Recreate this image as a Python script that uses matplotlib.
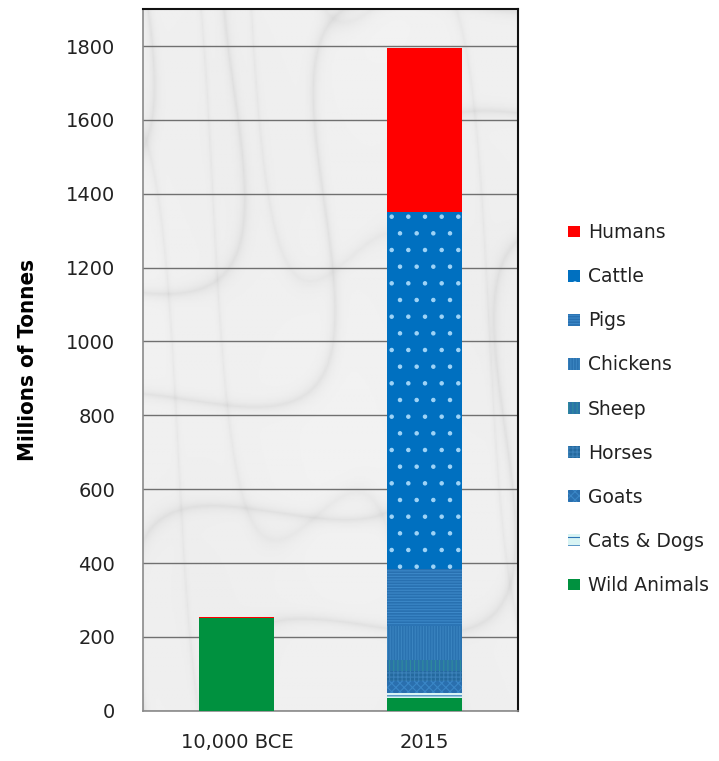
import matplotlib.pyplot as plt
import numpy as np

# Data (millions of tonnes)
periods = ["10,000 BCE", "2015"]
groups = ["Wild Animals", "Cats & Dogs", "Goats", "Horses", "Sheep",
          "Chickens", "Pigs", "Cattle", "Humans"]
biomass = {
    "Wild Animals": [250, 35],
    "Cats & Dogs":  [0, 13],
    "Goats":        [0, 32],
    "Horses":       [0, 27],
    "Sheep":        [0, 30],
    "Chickens":     [0, 92],
    "Pigs":         [0, 156],
    "Cattle":       [0, 965],
    "Humans":       [3, 445],
}

# Face colour, hatch colour, hatch pattern
styles = {
    "Wild Animals": ("#00913f", "#00913f", None),
    "Cats & Dogs":  ("#d8f4f4", "#2e75b6", "--"),
    "Goats":        ("#2a6fae", "#3a86c6", "xxxx"),
    "Horses":       ("#24699e", "#3a80b8", "++++"),
    "Sheep":        ("#2a73a8", "#2f8c9c", "||||"),
    "Chickens":     ("#2a72b0", "#3a84c0", "||||||"),
    "Pigs":         ("#2870b0", "#3c88c8", "------"),
    "Cattle":       ("#0070c0", "#9fd4f7", "."),
    "Humans":       ("#ff0000", "#ff0000", None),
}

plt.rcParams["hatch.linewidth"] = 0.8

fig = plt.figure(figsize=(7.19, 7.61), dpi=100)
ax = fig.add_axes([0.199, 0.066, 0.5215, 0.922])

# Marble-ish backdrop (deterministic, purely decorative)
gx, gy = np.meshgrid(np.linspace(0, 1, 300), np.linspace(0, 1, 600))
cloud = 0.5 + 0.25 * np.sin(6 * gx + 4 * gy) * np.sin(5 * gy - 3 * gx + 1.3)
veins = np.abs(np.sin(7 * gx - 9 * gy + 2.2 * np.sin(6 * gy + 4 * gx)))
veins2 = np.abs(np.sin(10 * gx + 6 * gy + 1.8 * np.sin(8 * gx - 2 * gy)))
shade = (0.955 - 0.03 * cloud - 0.06 * np.exp(-veins / 0.12)
         - 0.035 * np.exp(-veins2 / 0.1))
ax.imshow(shade, cmap="gray", vmin=0, vmax=1, extent=[-0.5, 1.5, 0, 1900],
          aspect="auto", zorder=0, origin="lower")

x = np.arange(len(periods))
bottom = np.zeros(len(periods))
handles = {}
for g in groups:
    vals = np.array(biomass[g], dtype=float)
    fc, hc, hatch = styles[g]
    b = ax.bar(x, vals, 0.4, bottom=bottom, color=fc, edgecolor=hc,
               linewidth=0, hatch=hatch, zorder=3, label=g)
    handles[g] = b
    bottom += vals

ax.set_xlim(-0.5, 1.5)
ax.set_ylim(0, 1900)
ax.set_yticks(np.arange(0, 1801, 200))
ax.set_xticks(x)
ax.set_xticklabels(periods)
ax.yaxis.grid(True, color="#707070", linewidth=1.0, zorder=1)
ax.set_axisbelow(True)
ax.tick_params(axis="both", length=0, labelsize=14, colors="#222222")
ax.tick_params(axis="y", pad=20)
ax.tick_params(axis="x", pad=16)

for s in ["left", "bottom"]:
    ax.spines[s].set_color("#8a8a8a")
    ax.spines[s].set_linewidth(1.2)
for s in ["top", "right"]:
    ax.spines[s].set_color("#111111")
    ax.spines[s].set_linewidth(1.5)

ax.set_ylabel("Millions of Tonnes", fontsize=16, fontweight="bold",
              fontstretch="condensed", labelpad=20)

order = groups[::-1]
leg = fig.legend([handles[g] for g in order], order, loc="upper left",
                 bbox_to_anchor=(0.767, 0.729), frameon=False, fontsize=13.5,
                 labelspacing=1.34, handlelength=0.6, handleheight=0.6,
                 handletextpad=0.45)
for t in leg.get_texts():
    t.set_color("#222222")

fig.savefig("out.png", dpi=100)
